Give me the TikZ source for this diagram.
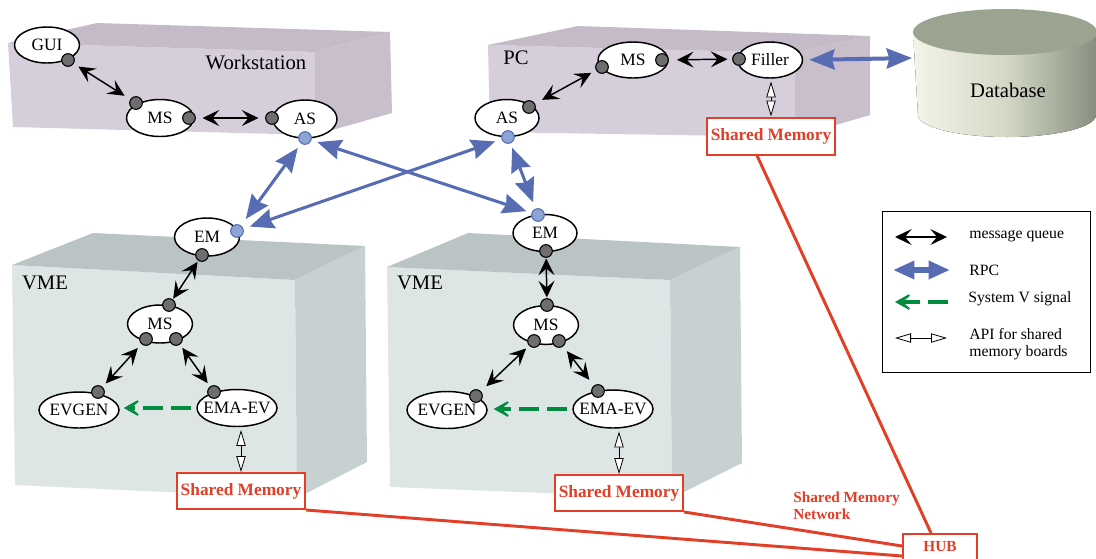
\documentclass[tikz,border=0pt]{standalone}
\usepackage{fontspec}
\setmainfont{Liberation Serif}
\usetikzlibrary{shapes.geometric,arrows.meta,calc}
\definecolor{wsfront}{RGB}{215,206,219}
\definecolor{wstop}{RGB}{196,186,200}
\definecolor{wsright}{RGB}{200,190,204}
\definecolor{vmefront}{RGB}{221,229,229}
\definecolor{vmetop}{RGB}{186,196,197}
\definecolor{vmeright}{RGB}{200,209,210}
\definecolor{rpcblue}{RGB}{88,108,180}
\definecolor{portblue}{RGB}{140,165,215}
\definecolor{portgray}{RGB}{110,110,110}
\definecolor{sigreen}{RGB}{0,140,60}
\definecolor{shmred}{RGB}{226,62,40}
\definecolor{dbtop}{RGB}{155,163,145}
\definecolor{dbl}{RGB}{244,244,232}
\definecolor{dbm}{RGB}{212,217,198}
\definecolor{dbr}{RGB}{135,142,125}
\newcommand\lbl[1]{\makebox[0pt]{#1}}
\begin{document}
\begin{tikzpicture}[x=0.75pt,y=-0.75pt,
  proc/.style={ellipse, draw, line width=1.1pt, fill=white, inner sep=0pt,
    minimum width=#1, minimum height=27.75pt, font=\fontsize{13}{15}\selectfont},
  port/.style={circle, draw, line width=0.8pt, fill=portgray, inner sep=0pt, minimum size=9.5pt},
  bport/.style={circle, draw=rpcblue, line width=0.8pt, fill=portblue, inner sep=0pt, minimum size=9.5pt},
  mq/.style={line width=1.1pt,
    {Stealth[length=12.5pt,width=12pt,inset=5pt]}-{Stealth[length=12.5pt,width=12pt,inset=5pt]}},
  rpc/.style={color=rpcblue, line width=2.3pt,
    {Stealth[length=18pt,width=15pt,inset=2pt]}-{Stealth[length=18pt,width=15pt,inset=2pt]}},
  sig/.style={color=sigreen, line width=3pt, dash pattern=on 15pt off 6pt,
    -{Stealth[length=17pt,width=19pt,inset=11.5pt]}},
  api/.style={line width=0.6pt,
    {Triangle[length=12pt,width=7pt,fill=white]}-{Triangle[length=12pt,width=7pt,fill=white]}},
  shm/.style={draw=shmred, line width=1.5pt, fill=white, text=shmred, inner sep=0pt,
    minimum width=96pt, minimum height=27pt, font=\fontsize{13}{15}\selectfont\bfseries},
  net/.style={color=shmred, line width=2.2pt},
  boxlbl/.style={font=\fontsize{15.5}{18}\selectfont, inner sep=0pt},
  legtxt/.style={font=\fontsize{11.8}{12.3}\selectfont, inner sep=0pt, anchor=west, align=left}
]
\useasboundingbox (0,0) rectangle (1096,558);
\clip (0,0) rectangle (1096,558);

% ---------- 3D boxes ----------
% Workstation
\fill[wsfront] (8,43) -- (315,52) -- (315,135) -- (13,127) -- cycle;
\fill[wstop] (8,43) -- (97,23) -- (390,32) -- (315,52) -- cycle;
\fill[wsright] (315,52) -- (390,32) -- (392,113) -- (315,135) -- cycle;
% PC
\fill[wsfront] (488,45) -- (795,53) -- (795,137) -- (490,132) -- cycle;
\fill[wstop] (488,45) -- (578,26) -- (870,36) -- (795,53) -- cycle;
\fill[wsright] (795,53) -- (870,36) -- (870,115) -- (795,137) -- cycle;
% VME left
\fill[vmefront] (12,265) -- (295,280) -- (297,498) -- (15,485) -- cycle;
\fill[vmetop] (12,265) -- (93,233) -- (365,246) -- (295,280) -- cycle;
\fill[vmeright] (295,280) -- (365,246) -- (367,462) -- (297,498) -- cycle;
% VME right
\fill[vmefront] (387,267) -- (670,280) -- (672,498) -- (390,487) -- cycle;
\fill[vmetop] (387,267) -- (468,233) -- (740,247) -- (670,280) -- cycle;
\fill[vmeright] (670,280) -- (740,247) -- (742,463) -- (672,498) -- cycle;
% Database cylinder
\fill[left color=dbl, right color=dbr, middle color=dbm]
  (913,32) -- (918,115) arc[start angle=180, end angle=0, x radius=89, y radius=22]
  -- (1097,32) -- cycle;
\fill[dbtop] (1005,32) ellipse [x radius=92, y radius=23];
\node[boxlbl] (db) at (1008,90) {Database};
\coordinate (dbL) at (912,58);

% ---------- box labels ----------
\node[boxlbl] (lws) at (256,62) {Workstation};
\node[boxlbl] (lpc) at (516,58) {PC};
\node[boxlbl] (lvme1) at (45,283) {VME};
\node[boxlbl] (lvme2) at (420,283) {VME};

% ---------- processes ----------
\node[proc=48.75pt, minimum height=27pt] (gui) at (47,45) {\lbl{GUI}};
\node[proc=50.25pt] (wsms) at (160,118) {\lbl{MS}};
\node[proc=48pt, minimum height=28.5pt] (wsas) at (305,119) {\lbl{AS}};
\node[proc=48pt] (pcas) at (507,118) {\lbl{AS}};
\node[proc=52.5pt, minimum height=27pt] (pcms) at (633,60) {\lbl{MS}};
\node[proc=48.75pt, minimum height=27pt] (filler) at (770,60) {\lbl{Filler}};
\node[proc=48.75pt, minimum height=28.5pt] (emL) at (207,237) {\lbl{EM}};
\node[proc=48.75pt, minimum height=28.5pt] (msL) at (160,324) {\lbl{MS}};
\node[proc=60pt, minimum height=27pt] (evgL) at (79,410) {\lbl{EVGEN}};
\node[proc=60pt] (emaL) at (237,408) {\lbl{EMA-EV}};
\node[proc=48pt] (emR) at (545,233) {\lbl{EM}};
\node[proc=48.75pt, minimum height=29pt] (msR) at (546,325) {\lbl{MS}};
\node[proc=60pt] (evgR) at (447,410) {\lbl{EVGEN}};
\node[proc=60pt, minimum height=28.5pt] (emaR) at (613,409) {\lbl{EMA-EV}};

% ---------- ports ----------
\node[port] (pgui) at (68,60) {};
\node[port] (pwsms1) at (136,103) {};
\node[port] (pwsms2) at (189,118) {};
\node[port] (pwsas1) at (272,118) {};
\node[bport] (pwsasb) at (305,138) {};
\node[port] (ppcas1) at (529,107) {};
\node[bport] (ppcasb) at (508,137) {};
\node[port] (ppcms1) at (602,67) {};
\node[port] (ppcms2) at (662,60) {};
\node[port] (pfil) at (739,59) {};
\node[bport] (pemLb) at (237,231) {};
\node[port] (pemL) at (202,255) {};
\node[port] (pmsLt) at (169,305) {};
\node[port] (pmsLl) at (146,339) {};
\node[port] (pmsLr) at (176,339) {};
\node[port] (pevgL) at (98,392) {};
\node[port] (pemaL) at (214,392) {};
\node[bport] (pemRb) at (538,215) {};
\node[port] (pemR) at (546,251) {};
\node[port] (pmsRt) at (547,305) {};
\node[port] (pmsRl) at (534,341) {};
\node[port] (pmsRr) at (559,341) {};
\node[port] (pevgR) at (476,396) {};
\node[port] (pemaR) at (598,391) {};

% ---------- shared memory boxes ----------
\node[shm] (smL) at (241,491) {Shared Memory};
\node[shm] (smR) at (619,493) {Shared Memory};
\node[shm, minimum height=27.75pt] (smPC) at (771,136) {Shared Memory};
\node[draw=shmred, line width=1.5pt, fill=white, text=shmred, inner sep=0pt,
  minimum width=55.5pt, minimum height=24pt, text height=7.6pt, text depth=6pt,
  font=\fontsize{11.5}{13}\selectfont\bfseries, anchor=north] (hub) at (940,533) {HUB};
\node[anchor=north west, align=left, inner sep=0pt, text=shmred,
  font=\fontsize{11.5}{12.75}\selectfont\bfseries] (netlbl) at (793,492) {Shared Memory\\Network};

% ---------- message queues ----------
\draw[mq, shorten <=4pt, shorten >=5pt] (pgui) -- (pwsms1);
\draw[mq, shorten <=5pt, shorten >=5pt] (pwsms2) -- (pwsas1);
\draw[mq, shorten <=6pt, shorten >=4pt] (ppcas1) -- (ppcms1);
\draw[mq, shorten <=6pt, shorten >=3.5pt] (ppcms2) -- (pfil);
\draw[mq, shorten <=1pt, shorten >=0.5pt] (pemL) -- (pmsLt);
\draw[mq, shorten <=4pt, shorten >=3.5pt] (pmsLl) -- (pevgL);
\draw[mq, shorten <=3pt, shorten >=3pt] (pmsLr) -- (pemaL);
\draw[mq, shorten <=0.5pt, shorten >=0.5pt] (pemR) -- (pmsRt);
\draw[mq, shorten <=3pt, shorten >=5.5pt] (pmsRl) -- (pevgR);
\draw[mq, shorten <=4.5pt, shorten >=5.5pt] (pmsRr) -- (pemaR);

% ---------- RPC ----------
\draw[rpc, shorten <=4pt, shorten >=6pt] (pwsasb) -- (pemLb);
\draw[rpc, shorten <=4.5pt, shorten >=4pt] (pwsasb) -- (pemRb);
\draw[rpc, shorten <=5pt, shorten >=5pt] (pemLb) -- (ppcasb);
\draw[rpc, shorten <=3.5pt, shorten >=5pt] (ppcasb) -- (pemRb);
\draw[rpc, line width=3pt, {Stealth[length=19pt,width=15pt,inset=2pt]}-{Stealth[length=19pt,width=15pt,inset=2pt]},
  shorten <=4.5pt] (filler.east) -- (dbL);

% ---------- System V signals ----------
\draw[sig, shorten <=3.75pt, shorten >=3pt] (emaL.west) -- (emaL.west -| evgL.east);
\draw[sig, shorten <=3.75pt, shorten >=4.5pt] (emaR.west) -- (emaR.west -| evgR.east);

% ---------- shared memory API ----------
\draw[api, shorten <=2pt] (smL.north |- emaL.south) -- (smL.north);
\draw[api, shorten <=2pt] (smR.north |- emaR.south) -- (smR.north);
\draw[api, shorten <=2pt] (smPC.north |- filler.south) -- (smPC.north);

% ---------- shared memory network ----------
\draw[net] ([xshift=-10.5pt]smPC.south) -- ([xshift=-6.75pt]hub.north);
\draw[net] (smR.south east) -- ([yshift=3pt]hub.west);
\draw[net] (smL.south east) -- ([yshift=-4.5pt]hub.west);

% ---------- legend ----------
\node[draw, line width=0.8pt, minimum width=156pt, minimum height=120.75pt, inner sep=0pt,
  anchor=north west] (legend) at (882,211) {};
\coordinate (l1a) at (895,237); \coordinate (l1b) at (947,237);
\coordinate (l2a) at (893,270); \coordinate (l2b) at (950,270);
\coordinate (l3a) at (948,302); \coordinate (l3b) at (895,302);
\coordinate (l4a) at (895,338); \coordinate (l4b) at (947,338);
\draw[mq] (l1a) -- (l1b);
\draw[color=rpcblue, line width=4.5pt,
  {Triangle[length=16pt,width=13pt]}-{Triangle[length=16pt,width=13pt]}] (l2a) -- (l2b);
\draw[sig] (l3a) -- (l3b);
\draw[api] (l4a) -- (l4b);
\node[legtxt] (t1) at (969,236) {message queue};
\node[legtxt] (t2) at (969,270) {RPC};
\node[legtxt] (t3) at (968,299) {System V signal};
\node[legtxt] (t4) at (969,344) {API for shared\\memory boards};
\end{tikzpicture}
\end{document}
